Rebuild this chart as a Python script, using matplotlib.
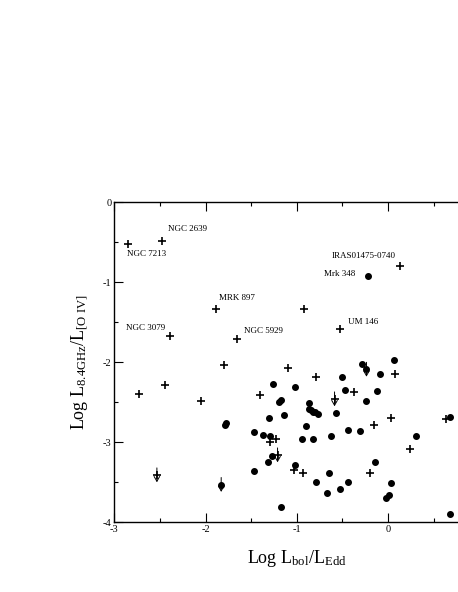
import matplotlib
matplotlib.use("Agg")
import matplotlib.pyplot as plt
from matplotlib.ticker import MultipleLocator

plt.rcParams['font.family'] = ['Liberation Serif', 'DejaVu Serif']
plt.rcParams['mathtext.fontset'] = 'custom'
plt.rcParams['mathtext.rm'] = 'Liberation Serif'
plt.rcParams['mathtext.it'] = 'Liberation Serif:italic'
plt.rcParams['axes.unicode_minus'] = False

# ---- data ----
plus_x = [-2.855, -2.478, -1.890, -2.39, -1.652, -1.795, 0.135, -0.925, -0.526,
          -2.724, -2.439, -2.05, -1.40, -1.225, -1.294, -1.097, -0.79, 0.077,
          -0.373, -0.154, 0.033, 0.636, 0.237, -1.035, -0.932, -0.194]
plus_y = [-0.52, -0.49, -1.33, -1.675, -1.709, -2.03, -0.80, -1.338, -1.588,
          -2.40, -2.284, -2.48, -2.405, -2.955, -2.99, -2.07, -2.18, -2.14,
          -2.37, -2.78, -2.70, -2.71, -3.09, -3.35, -3.39, -3.39]

plus_ul_x = [-2.533, -1.21, -0.585]
plus_ul_y = [-3.41, -3.16, -2.46]

dot_x = [-0.216, -0.28, 0.072, -1.265, -1.195, -1.175, -1.79, -1.77, -1.30,
         -1.463, -1.37, -1.294, -1.276, -1.316, -1.463, -1.17, -0.505, -0.084,
         -1.024, -0.471, -0.125, -0.863, -0.245, -0.863, -0.842, -0.82, -0.797,
         -0.762, -1.14, -0.572, -0.903, 0.683, -0.435, -0.307, -0.625, -0.943,
         -0.822, 0.31, -0.136, -1.024, -0.644, -0.783, -0.435, 0.036, -0.673,
         -0.526, -0.026, 0.011, 0.683]
dot_y = [-0.925, -2.02, -1.967, -2.27, -2.49, -2.475, -2.78, -2.76, -2.70,
         -2.87, -2.905, -2.92, -3.17, -3.25, -3.36, -3.81, -2.19, -2.15,
         -2.31, -2.35, -2.36, -2.51, -2.48, -2.585, -2.60, -2.615, -2.625,
         -2.64, -2.66, -2.63, -2.80, -2.69, -2.85, -2.86, -2.925, -2.955,
         -2.955, -2.92, -3.25, -3.28, -3.39, -3.50, -3.49, -3.51, -3.635,
         -3.59, -3.70, -3.66, -3.89]

dot_ul_x = [-1.828, -0.235]
dot_ul_y = [-3.53, -2.09]

label_names = ["NGC 2639", "NGC 7213", "MRK 897", "NGC 3079", "NGC 5929",
               "IRAS01475-0740", "Mrk 348", "UM 146"]
label_x = [-2.409, -2.862, -1.85, -2.873, -1.583, -0.622, -0.706, -0.439]
label_y = [-0.3375, -0.65, -1.20, -1.575, -1.609, -0.6675, -0.90, -1.50]

xticks = [-3, -2, -1, 0]
yticks = [0, -1, -2, -3, -4]

# ---- figure ----
W, H = 458, 592
fig = plt.figure(figsize=(W / 100, H / 100), dpi=100)
left = 114.3 / W
right = (114.3 + 4 * 91.2) / W
bottom = 1 - 522.3 / H
top = 1 - 202.3 / H
ax = fig.add_axes([left, bottom, right - left, top - bottom])

ax.set_xlim(-3, 1)
ax.set_ylim(-4, 0)

pk = dict(marker='+', linestyle='none', color='black', markersize=5.5, markeredgewidth=1.2)
dk = dict(marker='o', linestyle='none', color='black', markersize=4.0)

ax.plot(plus_x, plus_y, **pk)
ax.plot(plus_ul_x, plus_ul_y, **pk)
ax.plot(dot_x, dot_y, **dk)
ax.plot(dot_ul_x, dot_ul_y, **dk)

for x, y in list(zip(plus_ul_x, plus_ul_y)) + list(zip(dot_ul_x, dot_ul_y)):
    ax.annotate('', xy=(x, y - 0.09), xytext=(x, y + 0.09),
                arrowprops=dict(arrowstyle='->,head_length=0.35,head_width=0.2',
                                lw=0.7, color='black', shrinkA=0, shrinkB=0))

for name, x, y in zip(label_names, label_x, label_y):
    ax.text(x, y, name, fontsize=6.5, ha='left', va='center')

ax.set_xticks(xticks)
ax.set_yticks(yticks)
ax.set_xticklabels([str(v) for v in xticks])
ax.set_yticklabels([str(v) for v in yticks])
ax.xaxis.set_minor_locator(MultipleLocator(0.5))
ax.yaxis.set_minor_locator(MultipleLocator(0.5))
ax.tick_params(which='both', direction='in', top=True, right=True,
               labelsize=7.5, width=0.8, pad=2)
ax.tick_params(which='major', length=6.5)
ax.tick_params(which='minor', length=3.2)
for s in ax.spines.values():
    s.set_linewidth(1.0)

ax.set_xlabel(r'Log L$_{\rm bol}$/L$_{\rm Edd}$', fontsize=13, labelpad=10)
ax.set_ylabel(r'Log L$_{\rm 8.4GHz}$/L$_{\rm [O\ IV]}$', fontsize=13, labelpad=9)

fig.savefig('out.png', dpi=100)
